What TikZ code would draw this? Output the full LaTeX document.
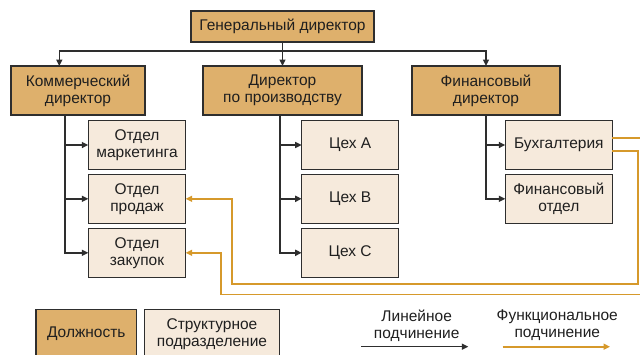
\documentclass[tikz,border=0pt]{standalone}
\usepackage{fontspec}
\setmainfont{Liberation Sans}
\usetikzlibrary{arrows.meta}
\definecolor{posfill}{HTML}{DEB06C}
\definecolor{unitfill}{HTML}{F6EADC}
\definecolor{edge}{HTML}{2E2E2E}
\definecolor{orng}{HTML}{D6992B}
\begin{document}
\begin{tikzpicture}[x=1pt,y=-1pt,
  font=\fontsize{15.5}{17}\selectfont,
  box/.style={draw=edge, line width=1.5pt, inner sep=0pt, outer sep=0pt, align=center, text=black!88},
  posbox/.style={box, fill=posfill},
  unitbox/.style={box, fill=unitfill},
  lbl/.style={align=center, text=black!88, inner sep=0pt},
  arr/.style={draw=edge, line width=1.5pt, -{Triangle[length=6.5pt,width=6pt]}},
  farr/.style={draw=orng, line width=1.7pt, -{Triangle[length=6.5pt,width=6pt]}}]
\clip (0,0) rectangle (640,354);
\fill[white] (0,0) rectangle (640,354);

% positions
\node[posbox, minimum width=183pt, minimum height=31pt] (gen) at (282.5,26.5) {Генеральный директор};
\node[posbox, minimum width=134pt, minimum height=49pt] (com) at (78,90.5) {Коммерческий\\директор};
\node[posbox, minimum width=159pt, minimum height=49pt] (prod) at (282.5,90.5) {Директор\\по производству};
\node[posbox, minimum width=148pt, minimum height=49pt] (fin) at (486,90.5) {Финансовый\\директор};

% units left
\node[unitbox, minimum width=97.4pt, minimum height=49pt] (mkt) at (137,145) {Отдел\\маркетинга};
\node[unitbox, minimum width=97.4pt, minimum height=49pt] (sales) at (137,198.8) {Отдел\\продаж};
\node[unitbox, minimum width=97.4pt, minimum height=49pt] (purch) at (137,252.8) {Отдел\\закупок};
% units middle
\node[unitbox, minimum width=97pt, minimum height=49pt] (ca) at (350.2,145) {Цех А};
\node[unitbox, minimum width=97pt, minimum height=49pt] (cb) at (350.2,198.8) {Цех В};
\node[unitbox, minimum width=97pt, minimum height=49pt] (cc) at (350.2,252.8) {Цех С};
% units right
\node[unitbox, minimum width=107pt, minimum height=49pt] (buh) at (558.8,145) {Бухгалтерия};
\node[unitbox, minimum width=107pt, minimum height=49pt] (fotd) at (558.8,198.8) {Финансовый\\отдел};

% legend
\node[posbox, minimum width=100.7pt, minimum height=49pt] (lpos) at (86.3,333.8) {Должность};
\node[unitbox, minimum width=134.6pt, minimum height=49pt] (lunit) at (212,333.8) {Структурное\\подразделение};
\node[lbl] (llin) at (416.7,325.5) {Линейное\\подчинение};
\node[lbl] (lfun) at (557.3,325.5) {Функциональное\\подчинение};
\coordinate (lin1) at (361,346.7);
\coordinate (lin2) at (468.3,346.7);
\coordinate (fun1) at (502.7,346.7);
\coordinate (fun2) at (610,346.7);
\draw[arr] (lin1) -- (lin2);
\draw[farr] (fun1) -- (fun2);

% top bus
\coordinate (bus) at (282.5,51);
\draw[edge, line width=1.5pt] (gen.south) -- (bus);
\draw[arr] (bus) -| ([xshift=-18.7pt]com.north);
\draw[arr] (bus) -- (prod.north);
\draw[arr] (bus) -| (fin.north);

% left column
\coordinate (cv) at (65,0);
\draw[arr] (com.south -| cv) |- (mkt.west);
\draw[arr] (com.south -| cv) |- (sales.west);
\draw[arr] (com.south -| cv) |- (purch.west);
% middle column
\coordinate (pv) at (280,0);
\draw[arr] (prod.south -| pv) |- (ca.west);
\draw[arr] (prod.south -| pv) |- (cb.west);
\draw[arr] (prod.south -| pv) |- (cc.west);
% right column
\draw[arr] (fin.south) |- (buh.west);
\draw[arr] (fin.south) |- (fotd.west);

% functional lines
\coordinate (o1) at (650,138);
\coordinate (o2) at (650,294.5);
\coordinate (o3) at (221,294.5);
\draw[farr] ([yshift=7pt]buh.east) -- (o1) -- (o2) -- (o3) |- (purch.east);
\coordinate (i1) at (637.7,150.7);
\coordinate (i2) at (637.7,284);
\coordinate (i3) at (231.7,284);
\draw[farr] ([yshift=-5.7pt]buh.east) -- (i1) -- (i2) -- (i3) |- (sales.east);
\end{tikzpicture}
\end{document}
